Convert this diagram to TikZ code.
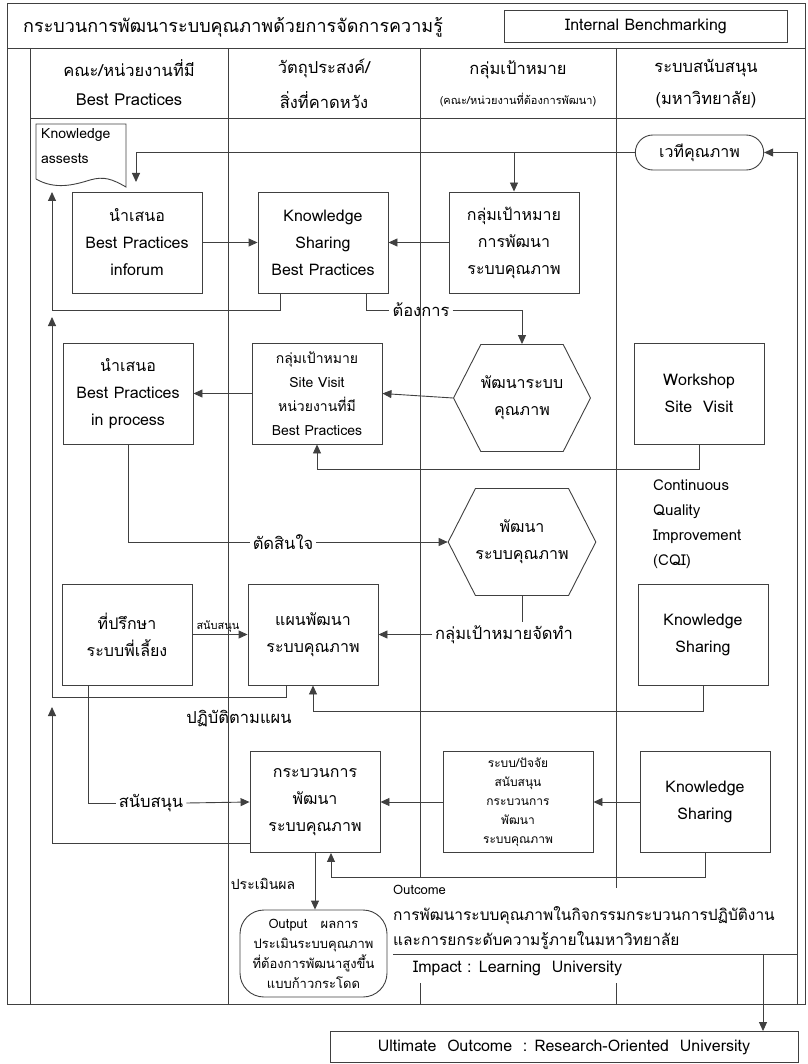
\documentclass[tikz,border=0pt]{standalone}
\usepackage{fontspec}
\setmainfont[Script=Thai]{Loma}
\usetikzlibrary{arrows.meta,shapes.misc,shapes.symbols}

\tikzset{
  line/.style={draw=black!75, line width=0.9pt},
  arr/.style={line, -{Triangle[length=9pt,width=8pt]}},
  box/.style={line, minimum width=130pt, minimum height=101pt, align=center, inner sep=2pt, font=\fontsize{16}{27}\selectfont},
  hexa/.style={line, signal, signal to=west and east, signal pointer angle=126, minimum width=132pt, minimum height=107pt, inner xsep=0pt, align=center, font=\fontsize{16}{27}\selectfont},
  lbl/.style={inner sep=3pt, font=\fontsize{16.5}{20}\selectfont},
  small/.style={inner sep=2pt, font=\fontsize{11}{13}\selectfont},
}

\begin{document}
\begin{tikzpicture}[x=1pt,y=-1pt]
  \useasboundingbox (0,0) rectangle (807,1064);
  % frame and lanes
  \draw[line] (7,3) rectangle (805,1004);
  \draw[line] (7,48) -- (805,48);
  \draw[line] (30,118) -- (805,118);
  \draw[line] (30,48) -- (30,1004);
  \draw[line] (228,48) -- (228,1004);
  \draw[line] (420,48) -- (420,878) (420,983) -- (420,1004);
  \draw[line] (616,48) -- (616,888) (616,983) -- (616,1004);

  % heading
  \node[lbl, anchor=west, font=\fontsize{18}{20}\selectfont] (title) at (20,27) {กระบวนการพัฒนาระบบคุณภาพด้วยการจัดการความรู้};
  \node[line, minimum width=283pt, minimum height=32pt, font=\fontsize{16}{20}\selectfont] (bench) at (646,26) {Internal Benchmarking};
  \node[lbl] (h1a) at (129,68) {คณะ/หน่วยงานที่มี};
  \node[lbl] (h1b) at (129,100) {Best Practices};
  \node[lbl] (h2a) at (324,68) {วัตถุประสงค์/};
  \node[lbl] (h2b) at (324,100) {สิ่งที่คาดหวัง};
  \node[lbl] (h3a) at (518,70) {กลุ่มเป้าหมาย};
  \node[small] (h3b) at (518,100) {(คณะ/หน่วยงานที่ต้องการพัฒนา)};
  \node[lbl] (h4a) at (706,68) {ระบบสนับสนุน};
  \node[lbl] (h4b) at (706,100) {(มหาวิทยาลัย)};

  % knowledge assets
  \draw[line] (36,179) -- (36,124) -- (126,124) -- (126,187)
    .. controls (112,179) and (104,176) .. (90,180)
    .. controls (74,185) and (55,190) .. (36,179);
  \node[anchor=north west, align=left, inner sep=0pt, font=\fontsize{14}{25}\selectfont] (kasset) at (41,128) {Knowledge\\assests};
  \coordinate (kaTip) at (136,182);
  \coordinate (upA) at (52,192);
  \coordinate (upB) at (52,317);
  \coordinate (upC) at (52,707);

  % row 1
  \node[line, rounded rectangle, minimum width=135pt, minimum height=35pt, font=\fontsize{16}{20}\selectfont] (vethi) at (699.5,152.5) {เวทีคุณภาพ};
  \node[box] (inforum) at (137,242.5) {นำเสนอ\\Best Practices\\inforum};
  \node[box] (ksbp) at (323,242.5) {Knowledge\\Sharing\\Best Practices};
  \node[box] (tgdev) at (514,242.5) {กลุ่มเป้าหมาย\\การพัฒนา\\ระบบคุณภาพ};
  \node[lbl] (want) at (421,310) {ต้องการ};

  % row 2
  \node[box] (inproc) at (128,393.5) {นำเสนอ\\Best Practices\\in process};
  \node[box, font=\fontsize{14}{24}\selectfont] (sitev) at (317,393.5) {กลุ่มเป้าหมาย\\Site Visit\\หน่วยงานที่มี\\Best Practices};
  \node[hexa] (hex1) at (522,398) {พัฒนาระบบ\\คุณภาพ};
  \node[box] (wss) at (699,393.5) {Workshop\\Site\ \ Visit};
  \node[anchor=north west, align=left, inner sep=0pt, font=\fontsize{15}{25}\selectfont] (cqi) at (653,480) {Continuous\\Quality\\Improvement\\(CQI)};

  % row 3
  \node[lbl] (decide) at (283,542) {ตัดสินใจ};
  \node[hexa] (hex2) at (522,542) {พัฒนา\\ระบบคุณภาพ};
  \node[box] (mentor) at (127,634.5) {ที่ปรึกษา\\ระบบพี่เลี้ยง};
  \node[box] (plan) at (313,634.5) {แผนพัฒนา\\ระบบคุณภาพ};
  \node[lbl] (jtam) at (504,634.5) {กลุ่มเป้าหมายจัดทำ};
  \node[box] (ks2) at (703,634.5) {Knowledge\\Sharing};
  \node[lbl] (follow) at (239,719) {ปฏิบัติตามแผน};

  % row 4
  \node[lbl] (sup2) at (151,803) {สนับสนุน};
  \node[box] (proc) at (315,802) {กระบวนการ\\พัฒนา\\ระบบคุณภาพ};
  \node[box, minimum width=150pt, font=\fontsize{12}{19}\selectfont] (factor) at (518,802) {ระบบ/ปัจจัย\\สนับสนุน\\กระบวนการ\\พัฒนา\\ระบบคุณภาพ};
  \node[box] (ks3) at (705,802) {Knowledge\\Sharing};
  \node[lbl, font=\fontsize{14}{18}\selectfont] (assess) at (263,884) {ประเมินผล};
  \node[line, rounded corners=24pt, minimum width=147pt, minimum height=87pt, align=center, inner sep=2pt, font=\fontsize{13}{20}\selectfont] (output) at (313.5,953.5) {Output\ \ \ ผลการ\\ประเมินระบบคุณภาพ\\ที่ต้องการพัฒนาสูงขึ้น\\แบบก้าวกระโดด};

  % outcome and impact
  \node[anchor=west, inner sep=0pt, font=\fontsize{13}{16}\selectfont] (outc) at (393,890) {Outcome};
  \node[anchor=north west, align=left, inner sep=0pt, font=\fontsize{15.5}{25}\selectfont] (outtxt) at (393,906) {การพัฒนาระบบคุณภาพในกิจกรรมกระบวนการปฏิบัติงาน\\และการยกระดับความรู้ภายในมหาวิทยาลัย};
  \coordinate (impL) at (393,954);
  \coordinate (impR) at (797,954);
  \coordinate (impA) at (763,954);
  \coordinate (fb) at (797,1004);
  \node[anchor=west, inner sep=0pt, font=\fontsize{16}{20}\selectfont] (impact) at (413,968) {Impact : Learning\ \ University};
  \node[line, minimum width=468pt, minimum height=31pt, font=\fontsize{16}{20}\selectfont] (ult) at (564,1047) {Ultimate\ \ Outcome\ \ : Research-Oriented\ \ University};

  % connectors
  \draw[arr] (vethi.west) -| (kaTip);
  \draw[arr] (vethi.west -| tgdev.north) -- (tgdev.north);
  \draw[arr] (fb) |- (vethi.east);
  \draw[arr] (inforum) -- (ksbp);
  \draw[arr] (tgdev) -- (ksbp);
  \draw[arr] ([xshift=-43pt]ksbp.south) -- ++(0,17) -| (upA);
  \draw[line] ([xshift=43pt]ksbp.south) |- (want.west);
  \draw[arr] (want.east) -| (hex1.north);
  \draw[arr] (hex1.west) -- (sitev.east);
  \draw[arr] (sitev.west) -- (inproc.east);
  \draw[arr] (wss.south) -- ++(0,25) -| (sitev.south);
  \draw[line] (inproc.south) |- (decide.west);
  \draw[arr] (decide.east) -- (hex2.west);
  \draw[arr] (mentor.east) -- node[small, above, xshift=-2pt] (sup1) {สนับสนุน} (plan.west);
  \draw[line] (hex2.south) -- (hex2.south |- jtam.north);
  \draw[arr] (jtam.west) -- (plan.east);
  \draw[arr] ([xshift=-27pt]plan.south) -- ++(0,12) -| (upB);
  \draw[arr] (ks2.south) -- ++(0,26) -| (plan.south);
  \draw[line] ([xshift=-39pt]mentor.south) |- (sup2.west);
  \draw[arr] (sup2.east) -- (proc.west);
  \draw[arr] (factor.west) -- (proc.east);
  \draw[arr] (ks3.west) -- (factor.east);
  \draw[arr] ([yshift=-41pt]proc.west) -| (upC);
  \draw[arr] (proc.south) -- (proc.south |- output.north);
  \draw[arr] (ks3.south) -- ++(0,24) -| ([xshift=16pt]proc.south);
  \draw[line] (impL) -- (impR);
  \draw[arr] (impA) -- (impA |- ult.north);
\end{tikzpicture}
\end{document}
